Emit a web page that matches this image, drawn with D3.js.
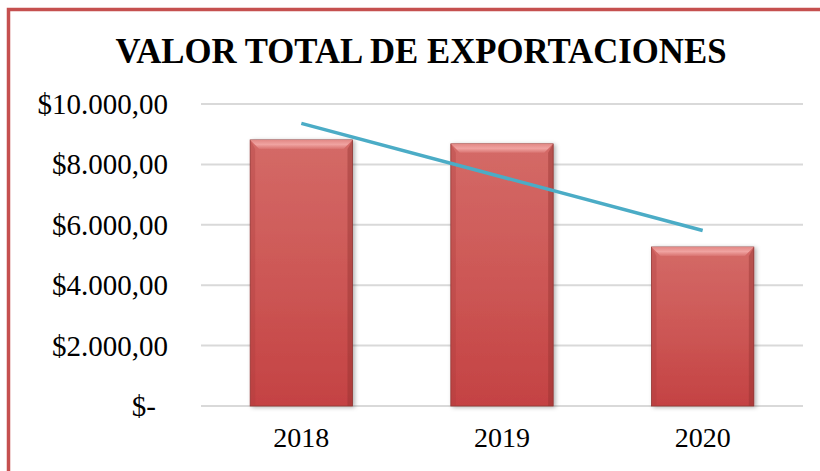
<!DOCTYPE html>
<html>
<head>
<meta charset="utf-8">
<script src="https://cdn.jsdelivr.net/npm/d3@7"></script>
<style>
  body { margin: 0; background: #fff; }
  svg { display: block; }
  text { font-family: "Liberation Serif", "Times New Roman", serif; fill: #000; }
</style>
</head>
<body>
<svg id="chart" width="820" height="471"></svg>
<script>
// data
const years = ["2018", "2019", "2020"];
const exports = [8810, 8680, 5265];
const yTicks = [0, 2000, 4000, 6000, 8000, 10000];
const yTickLabels = ["$-", "$2.000,00", "$4.000,00", "$6.000,00", "$8.000,00", "$10.000,00"];
const title = "VALOR TOTAL DE EXPORTACIONES";

const svg = d3.select("#chart");
const W = 820, H = 471;
const margin = {top: 104, right: 17, bottom: 65, left: 201};

// outer chart border (right and bottom fall outside the picture)
svg.append("rect")
  .attr("x", 8.5).attr("y", 9.5)
  .attr("width", W + 20).attr("height", H + 20)
  .attr("fill", "none")
  .attr("stroke", "#c5504f")
  .attr("stroke-width", 3.5);

svg.append("text")
  .attr("x", 421).attr("y", 63)
  .attr("text-anchor", "middle")
  .attr("textLength", 611)
  .attr("lengthAdjust", "spacingAndGlyphs")
  .style("font-size", "35px")
  .style("font-weight", "bold")
  .text(title);

var x = d3.scaleBand()
  .domain(years)
  .range([margin.left, W - margin.right])
  .paddingInner(0.49)
  .paddingOuter(0.245);

var y = d3.scaleLinear()
  .domain([0, 10000])
  .range([H - margin.bottom, margin.top]);

// gridlines
svg.append("g").selectAll("line")
  .data(yTicks)
  .enter().append("line")
  .attr("x1", margin.left).attr("x2", W - margin.right)
  .attr("y1", d => y(d)).attr("y2", d => y(d))
  .attr("stroke", "#d9d9d9")
  .attr("stroke-width", 2);

// y tick labels
svg.append("g").selectAll("text")
  .data(yTicks)
  .enter().append("text")
  .attr("x", (d, i) => i == 0 ? 156 : 168)
  .attr("y", d => y(d) + 10)
  .attr("text-anchor", "end")
  .style("font-size", "29px")
  .text((d, i) => yTickLabels[i]);

// x labels
svg.append("g").selectAll("text")
  .data(years)
  .enter().append("text")
  .attr("x", d => x(d) + x.bandwidth() / 2)
  .attr("y", 447)
  .attr("text-anchor", "middle")
  .style("font-size", "28px")
  .text(d => d);

// bar styling
var defs = svg.append("defs");
var grad = defs.append("linearGradient")
  .attr("id", "barGrad").attr("x1", 0).attr("y1", 0).attr("x2", 0).attr("y2", 1);
grad.append("stop").attr("offset", "0%").attr("stop-color", "#d46a67");
grad.append("stop").attr("offset", "50%").attr("stop-color", "#cd5856");
grad.append("stop").attr("offset", "100%").attr("stop-color", "#c44243");

var topGrad = defs.append("linearGradient")
  .attr("id", "topGrad").attr("x1", 0).attr("y1", 0).attr("x2", 0).attr("y2", 1);
topGrad.append("stop").attr("offset", "0%").attr("stop-color", "#e28885");
topGrad.append("stop").attr("offset", "50%").attr("stop-color", "#f0a3a1");
topGrad.append("stop").attr("offset", "100%").attr("stop-color", "#d97370");

var shadow = defs.append("filter").attr("id", "shadow")
  .attr("x", "-20%").attr("y", "-10%").attr("width", "140%").attr("height", "120%");
shadow.append("feDropShadow")
  .attr("dx", 2).attr("dy", 1).attr("stdDeviation", 2)
  .attr("flood-color", "#000").attr("flood-opacity", 0.3);

var bars = svg.append("g").selectAll("g")
  .data(exports)
  .enter().append("g");

bars.append("rect")
  .attr("x", (d, i) => x(years[i]))
  .attr("y", d => y(d))
  .attr("width", x.bandwidth())
  .attr("height", d => y(0) - y(d))
  .attr("fill", "url(#barGrad)")
  .attr("stroke", "#8e3634")
  .attr("stroke-width", 0.8)
  .attr("filter", "url(#shadow)");

var bev = 9, side = 5;
// left bevel
bars.append("path")
  .attr("d", (d, i) => {
    var x0 = x(years[i]), t = y(d), b = y(0);
    return `M${x0},${t}L${x0 + side},${t + bev}L${x0 + side},${b}L${x0},${b}Z`;
  })
  .attr("fill", "#a83c3b")
  .attr("opacity", 0.3);
// right bevel
bars.append("path")
  .attr("d", (d, i) => {
    var x1 = x(years[i]) + x.bandwidth(), t = y(d), b = y(0);
    return `M${x1},${t}L${x1 - side},${t + bev}L${x1 - side},${b}L${x1},${b}Z`;
  })
  .attr("fill", "#8f2f2e")
  .attr("opacity", 0.4);
// top bevel
bars.append("path")
  .attr("d", (d, i) => {
    var x0 = x(years[i]), x1 = x0 + x.bandwidth(), t = y(d);
    return `M${x0},${t}L${x1},${t}L${x1 - side - 4},${t + bev}L${x0 + side + 4},${t + bev}Z`;
  })
  .attr("fill", "url(#topGrad)");

// linear trend line fitted to the bars
var n = exports.length;
var xs = d3.range(n);
var mx = d3.mean(xs), my = d3.mean(exports);
var slope = d3.sum(xs, i => (i - mx) * (exports[i] - my)) / d3.sum(xs, i => (i - mx) * (i - mx));
var icpt = my - slope * mx;

var line = d3.line()
  .x(i => x(years[i]) + x.bandwidth() / 2)
  .y(i => y(icpt + slope * i));

svg.append("path")
  .datum([0, n - 1])
  .attr("d", line)
  .attr("fill", "none")
  .attr("stroke", "#4bacc6")
  .attr("stroke-width", 3.5);
</script>
</body>
</html>
